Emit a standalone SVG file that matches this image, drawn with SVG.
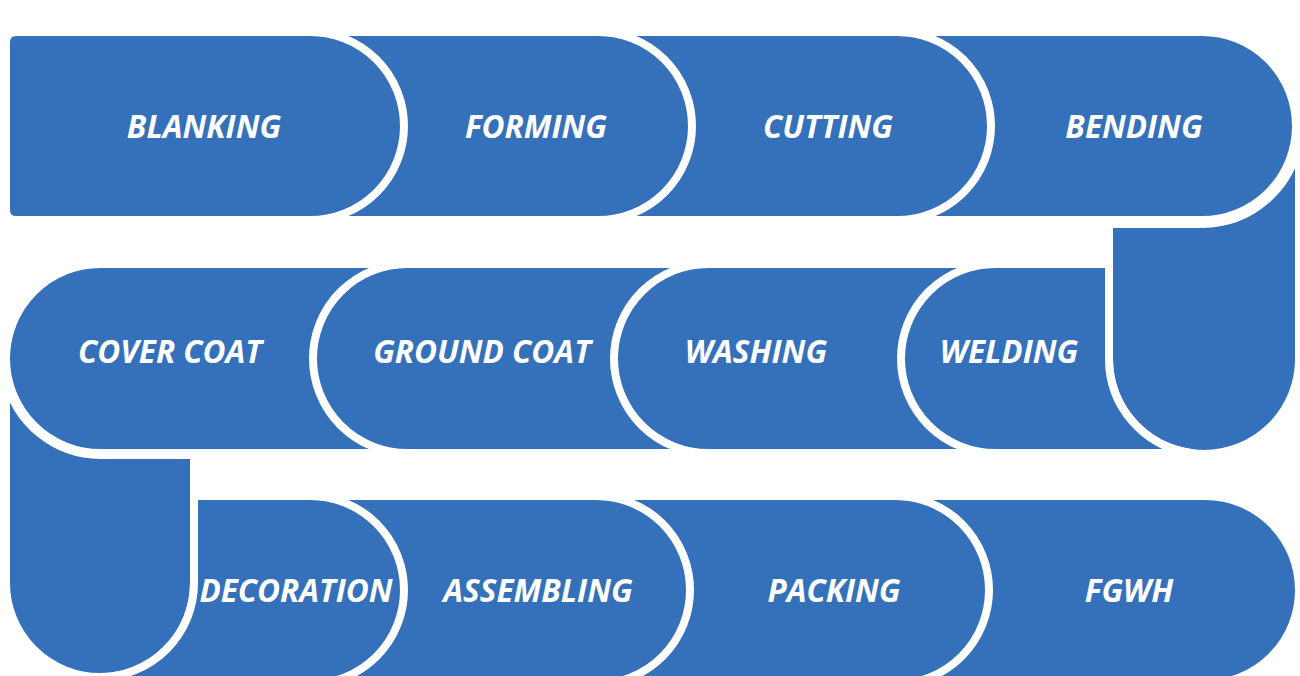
<svg xmlns="http://www.w3.org/2000/svg" width="1300" height="676" viewBox="0 0 1300 676">
<style>
.shape{fill:#3571BA;stroke:#FFFFFF;stroke-width:8;stroke-linejoin:round}
.label{font-family:"Open Sans","Noto Sans",sans-serif;font-weight:700;font-style:italic;font-size:31.5px;fill:#FFFFFF;text-anchor:middle}
</style>
<rect width="1300" height="676" fill="#FFFFFF"/>
<g id="connectors">
<path class="shape" d="M1109,224 H1202 A98,98 0 0 0 1299,140 V359 A95,95 0 0 1 1109,359 Z"/>
<path class="shape" d="M194,455 H100.5 A96.5,96.5 0 0 1 6,377.9 V583 A94,94 0 0 0 194,583 Z"/>
</g>
<g id="fgwh"><path class="shape" d="M890,496 H1205 A94,94 0 0 1 1205,684 H890 Z"/><text class="label" x="1129" y="602">FGWH</text></g>
<g id="packing"><path class="shape" d="M590,496 H895 A94,94 0 0 1 895,684 H590 Z"/><text class="label" x="834" y="602">PACKING</text></g>
<g id="assembling"><path class="shape" d="M300,496 H596 A94,94 0 0 1 596,684 H300 Z"/><text class="label" x="538" y="602">ASSEMBLING</text></g>
<g id="decoration"><path class="shape" d="M194,496 H310 A94,94 0 0 1 310,684 H100 V677 A94,94 0 0 0 194,583 Z"/><text class="label" x="296" y="602">DECORATION</text></g>
<g id="cover-coat"><path class="shape" d="M100.5,264 H400 V453 H100.5 A94.5,94.5 0 0 1 100.5,264 Z"/><text class="label" x="170" y="363">COVER COAT</text></g>
<g id="ground-coat"><path class="shape" d="M407.5,264 H700 V453 H407.5 A94.5,94.5 0 0 1 407.5,264 Z"/><text class="label" x="482" y="363">GROUND COAT</text></g>
<g id="washing"><path class="shape" d="M708.5,264 H1000 V453 H708.5 A94.5,94.5 0 0 1 708.5,264 Z"/><text class="label" x="756" y="363">WASHING</text></g>
<g id="welding"><path class="shape" d="M995.5,264 H1109 V359 A95,95 0 0 0 1190.3,453 H995.5 A94.5,94.5 0 0 1 995.5,264 Z"/><text class="label" x="1009" y="363">WELDING</text></g>
<g id="bending"><path class="shape" d="M890,32 H1202 A94,94 0 0 1 1202,220 H890 Z"/><text class="label" x="1134" y="138">BENDING</text></g>
<g id="cutting"><path class="shape" d="M590,32 H897 A94,94 0 0 1 897,220 H590 Z"/><text class="label" x="828" y="138">CUTTING</text></g>
<g id="forming"><path class="shape" d="M300,32 H598 A94,94 0 0 1 598,220 H300 Z"/><text class="label" x="536" y="138">FORMING</text></g>
<g id="blanking"><path class="shape" d="M16,32 H310 A94,94 0 0 1 310,220 H16 Q6,220 6,210 V42 Q6,32 16,32 Z"/><text class="label" x="204" y="138">BLANKING</text></g>
</svg>
